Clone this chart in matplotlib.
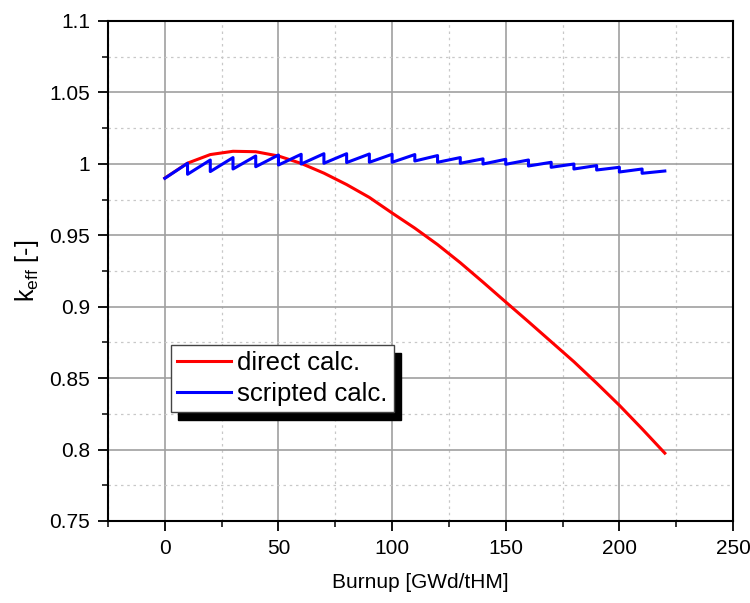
import numpy as np
import matplotlib
matplotlib.use('Agg')
import matplotlib.pyplot as plt
from matplotlib.ticker import MultipleLocator, FuncFormatter

plt.rcParams['font.family'] = ['Liberation Sans', 'DejaVu Sans']
plt.rcParams['mathtext.default'] = 'regular'

# direct calculation, one point every 10 GWd/tHM
direct_burnup = [0, 10, 20, 30, 40, 50, 60, 70, 80, 90, 100, 110, 120, 130, 140,
                 150, 160, 170, 180, 190, 200, 210, 220]
direct_keff = [0.990, 1.0005, 1.0065, 1.0088, 1.0085, 1.0055, 1.0003, 0.9935,
               0.9855, 0.9765, 0.9656, 0.9550, 0.9435, 0.9308, 0.9172,
               0.9033, 0.8895, 0.8755, 0.8615, 0.8465, 0.8310, 0.8145, 0.7975]

# scripted calculation: value just before each restart and just after it
step_burnup = [10, 20, 30, 40, 50, 60, 70, 80, 90, 100, 110, 120, 130, 140,
               150, 160, 170, 180, 190, 200, 210]
step_before = [1.0004, 1.0027, 1.0044, 1.0055, 1.0062, 1.0067, 1.0071, 1.0071,
               1.0069, 1.0067, 1.0065, 1.0058, 1.0044, 1.0035, 1.0032, 1.0027,
               1.0011, 0.9999, 0.9988, 0.9976, 0.9964]
step_after = [0.9927, 0.9946, 0.9964, 0.9980, 0.9992, 0.9999, 1.0004, 1.0009,
              1.0011, 1.0011, 1.0020, 1.0011, 1.0004, 0.9999, 0.9997, 0.9985,
              0.9976, 0.9964, 0.9957, 0.9943, 0.9934]
scripted_start = (0, 0.9899)
scripted_end = (220, 0.9950)

sx = [scripted_start[0]]
sy = [scripted_start[1]]
for b, hi, lo in zip(step_burnup, step_before, step_after):
    sx += [b, b]
    sy += [hi, lo]
sx.append(scripted_end[0])
sy.append(scripted_end[1])

fig = plt.figure(figsize=(7.5, 6.03), dpi=100)
ax = fig.add_axes([108 / 750, 1 - 521 / 603, 625 / 750, 500 / 603])

ax.plot(direct_burnup, direct_keff, color='#ff0000', lw=2.2, label='direct calc.', zorder=3)
ax.plot(sx, sy, color='#0000ff', lw=2.2, label='scripted calc.', zorder=3)

ax.set_xlim(-25, 250)
ax.set_ylim(0.75, 1.1)
ax.xaxis.set_major_locator(MultipleLocator(50))
ax.xaxis.set_minor_locator(MultipleLocator(25))
ax.yaxis.set_major_locator(MultipleLocator(0.05))
ax.yaxis.set_minor_locator(MultipleLocator(0.025))
ax.yaxis.set_major_formatter(FuncFormatter(lambda v, p: f'{v:.2f}'.rstrip('0').rstrip('.')))

ax.grid(which='major', color='#a0a0a0', lw=1.2, ls='-')
ax.grid(which='minor', color='#c8c8c8', lw=0.9, ls=(0, (2, 3)))
ax.set_axisbelow(True)

for s in ax.spines.values():
    s.set_linewidth(1.5)
    s.set_color('black')
ax.tick_params(which='major', direction='out', length=7, width=1.3, labelsize=15, pad=6)
ax.tick_params(which='minor', direction='out', length=4, width=1.1)

ax.set_xlabel('Burnup [GWd/tHM]', fontsize=15, labelpad=11)
ax.set_ylabel('k$_{eff}$ [-]', fontsize=18, labelpad=6)

leg = ax.legend(loc='upper left', bbox_to_anchor=(0.1, 0.353), borderaxespad=0,
                fontsize=18.5, fancybox=False, framealpha=1, edgecolor='#444444',
                handlelength=2.1, handletextpad=0.25, borderpad=0.25, labelspacing=0.26,
                shadow={'ox': 5.3, 'oy': -6, 'color': 'black', 'alpha': 1})
leg.get_frame().set_linewidth(1.0)

fig.savefig('out.png', dpi=100)
